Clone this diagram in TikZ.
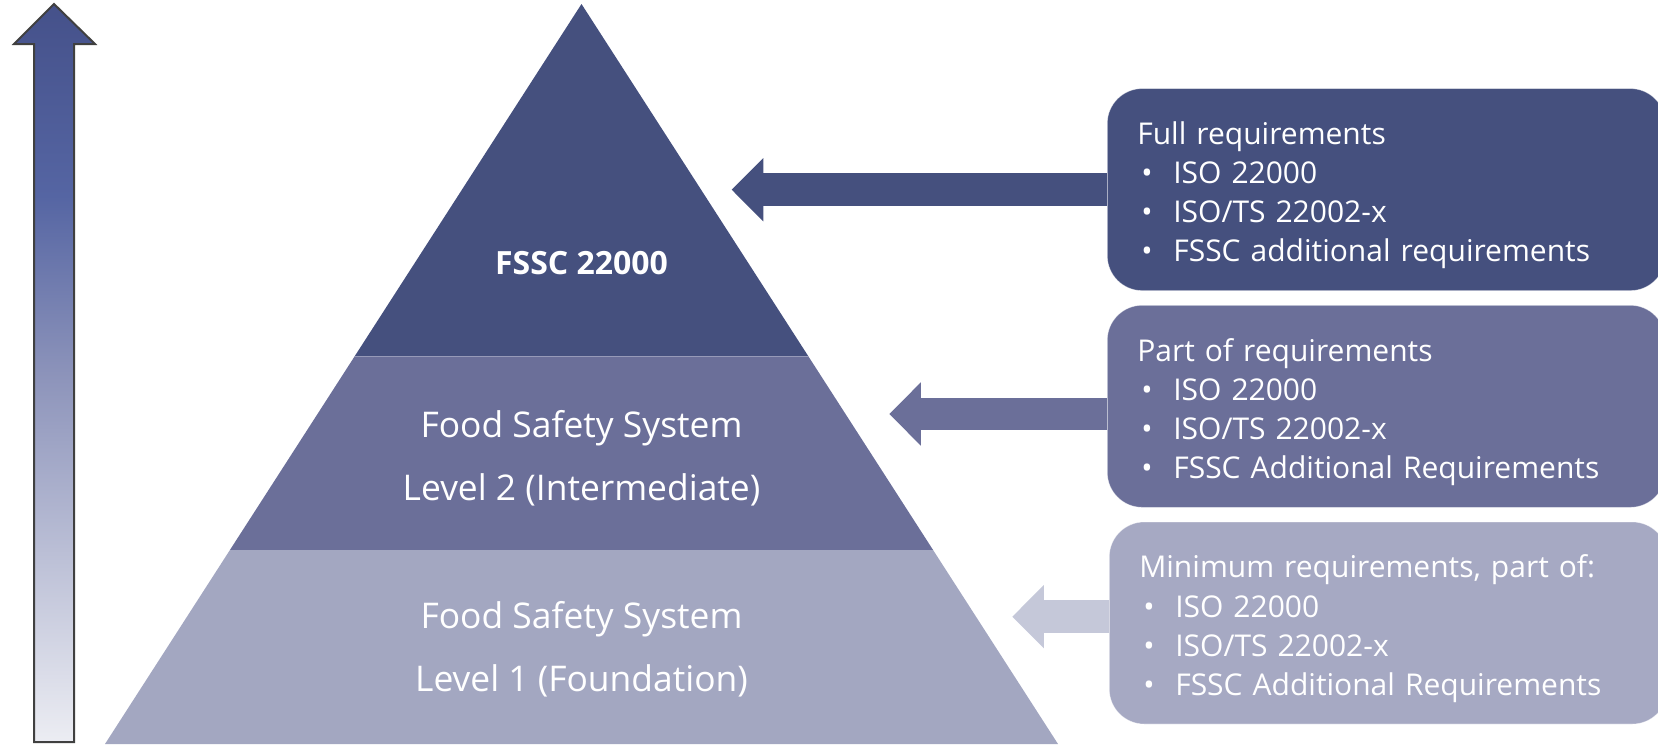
\documentclass[tikz,border=0pt]{standalone}
\usepackage{fontspec}
\setmainfont{Open Sans}
\usetikzlibrary{calc}
\usetikzlibrary{arrows.meta}
\usetikzlibrary{positioning}

\definecolor{tierTop}{HTML}{45507E}
\definecolor{tierMid}{HTML}{6B6F99}
\definecolor{tierLow}{HTML}{A3A7C1}
\definecolor{boxLow}{HTML}{A6A9C3}
\definecolor{arrLow}{HTML}{C5C8D9}
\definecolor{barTop}{HTML}{45518A}
\definecolor{barBlue}{HTML}{5565A3}
\definecolor{barMid}{HTML}{8C93BA}
\definecolor{barLow}{HTML}{ECEDF3}
\definecolor{barEdge}{HTML}{404040}
\pgfdeclareverticalshading{levelbar}{100bp}{color(0bp)=(barLow); color(25bp)=(barLow); color(50bp)=(barMid); color(62bp)=(barBlue); color(75bp)=(barTop); color(100bp)=(barTop)}

\newcommand{\bul}[1]{\hspace*{2pt}\makebox[16pt][l]{\textbullet}#1}
\newcommand{\firstline}{\rule{0pt}{17.2pt}}

\begin{document}
\begin{tikzpicture} [x=.5pt, y=-.5pt,
  reqbox/.style={rounded corners=17.5pt, minimum height=101pt, text width=249pt,
    inner xsep=15pt, align=left, text=white, draw=white, draw opacity=.45, line width=.3pt,
    font=\fontsize{15}{19.6}\selectfont},
  tiertext/.style={text=white, align=center, font=\fontsize{17.7}{31.7}\selectfont},
  levelarrow/.style={line width=16.3pt, -{Triangle[length=15.8pt, width=31.7pt, line width=0pt]}}]
\useasboundingbox (0,0) rectangle (1658,744);
\clip (0,0) rectangle (1658,744);

% level bar on the left
\shadedraw[shading=levelbar, draw=barEdge, line width=1pt] (54,4) -- (95,44) -- (74,44) -- (74,742) -- (34,742) -- (34,44) -- (14,44) -- cycle;

% pyramid
\coordinate (apex) at (581.5,4);
\coordinate (baseL) at (105,744);
\coordinate (baseR) at (1058,744);
\coordinate (cutL2) at ($(apex)!.4757!(baseL)$);
\coordinate (cutR2) at ($(apex)!.4757!(baseR)$);
\coordinate (cutL1) at ($(apex)!.7378!(baseL)$);
\coordinate (cutR1) at ($(apex)!.7378!(baseR)$);
\fill[tierLow] (cutL1) -- (cutR1) -- (baseR) -- (baseL) -- cycle;
\fill[tierMid] (cutL2) -- (cutR2) -- (cutR1) -- (cutL1) -- cycle;
\fill[tierTop] (apex) -- (cutR2) -- (cutL2) -- cycle;
\draw[white!30!tierMid, line width=.5pt] (cutL2) -- (cutR2);

\node[tiertext, font=\bfseries\fontsize{16}{18}\selectfont] (fssc) at (581.5,262.7) {FSSC 22000};
\node[tiertext] (level2) at (581.5,458.5) {Food Safety System\\Level 2 (Intermediate)};
\node[tiertext] (level1) at (581.5,649.5) {Food Safety System\\Level 1 (Foundation)};

% requirement boxes
\node[reqbox, fill=tierTop, anchor=north west] (full) at (1107,88.3)
  {\firstline Full requirements\\ \bul{ISO 22000}\\ \bul{ISO/TS 22002-x}\\ \bul{FSSC additional requirements}};
\node[reqbox, fill=tierMid, anchor=north west] (part) at (1107,305)
  {\firstline Part of requirements\\ \bul{ISO 22000}\\ \bul{ISO/TS 22002-x}\\ \bul{FSSC Additional Requirements}};
\node[reqbox, fill=boxLow, anchor=north west] (minimum) at (1109,521.7)
  {\firstline Minimum requirements, part of:\\ \bul{ISO 22000}\\ \bul{ISO/TS 22002-x}\\ \bul{FSSC Additional Requirements}};

% arrows from boxes to pyramid
\coordinate (tipFull) at (731.7,189.7);
\coordinate (tipPart) at (889.3,414);
\coordinate (tipMin) at (1012.3,616.7);
\draw[levelarrow, tierTop] (full.west |- tipFull) -- (tipFull);
\draw[levelarrow, tierMid] (part.west |- tipPart) -- (tipPart);
\draw[levelarrow, arrLow] (minimum.west |- tipMin) -- (tipMin);
\end{tikzpicture}
\end{document}
